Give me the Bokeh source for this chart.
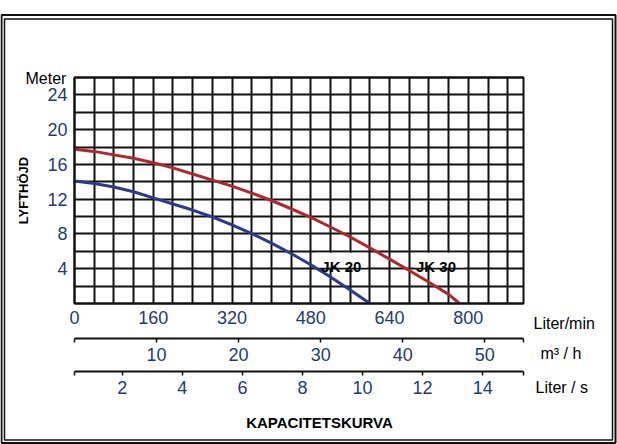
from bokeh.plotting import figure
from bokeh.models import (Range1d, LinearAxis, FixedTicker, SingleIntervalTicker,
                          Label, BoxAnnotation)
from bokeh.embed import file_html
from bokeh.resources import INLINE

FONT = "Liberation Sans"
TICK_BLUE = "#1f3a78"
RED = "#b1282c"
BLUE = "#2a3a8e"
INK = "#111111"

# ---- data ----
q_jk20 = [0, 40, 80, 120, 160, 200, 240, 280, 320, 360, 400, 440, 480, 520, 560, 600]
h_jk20 = [14.1, 13.8, 13.4, 12.85, 12.15, 11.45, 10.75, 9.95, 9.05, 8.05, 6.95, 5.75,
          4.45, 3.05, 1.55, 0.0]

q_jk30 = [0, 40, 80, 120, 160, 200, 240, 280, 320, 360, 400, 440, 480, 520, 560, 600,
          640, 680, 720, 760, 782]
h_jk30 = [17.75, 17.5, 17.1, 16.7, 16.2, 15.6, 14.9, 14.2, 13.5, 12.7, 11.85, 10.9, 9.9,
          8.8, 7.65, 6.4, 5.1, 3.8, 2.45, 1.05, 0.0]

lpm_ticks = [0, 160, 320, 480, 640, 800]          # Liter/min
m3h_ticks = [10, 20, 30, 40, 50]                  # m3 / h
ls_ticks = [2, 4, 6, 8, 10, 12, 14]               # Liter / s
h_ticks = [4, 8, 12, 16, 20, 24]                  # Meter

q_max = 912            # right edge of the diagram (Liter/min)
h_max = 26             # top edge of the diagram (Meter)
m3h_per_lpm = 0.06
ls_zero_lpm = -25      # where 0 Liter/s sits on the Liter/min scale in the reference
lpm_per_ls = 61

# ---- layout (pixels) ----
W, H = 617, 444
L, R, T, B = 74, 523, 77, 303
ppx = (R - L) / q_max
ppy = (B - T) / h_max
x0, x1 = -L / ppx, q_max + (W - R) / ppx
y0, y1 = -(H - B) / ppy, h_max + T / ppy


def dx(px):
    return (px - L) / ppx


def dy(py):
    return (B - py) / ppy


def to_ls(q):
    return (q - ls_zero_lpm) / lpm_per_ls


p = figure(width=W, height=H, output_backend="svg", toolbar_location=None, title=None,
           x_range=Range1d(x0, x1), y_range=Range1d(y0, y1),
           min_border=0, min_border_left=0, min_border_right=0,
           min_border_top=0, min_border_bottom=0)
p.background_fill_color = "white"
p.border_fill_color = "white"
p.outline_line_color = None

# grid restricted to the diagram
p.xgrid.ticker = SingleIntervalTicker(interval=40)
p.ygrid.ticker = SingleIntervalTicker(interval=2)
xg, yg = p.xgrid[0], p.ygrid[0]
xg.bounds = (0, q_max)
xg.cross_bounds = (0, h_max)
yg.bounds = (0, h_max)
yg.cross_bounds = (0, q_max)
for g in (xg, yg):
    g.grid_line_color = INK
    g.grid_line_width = 2
    g.grid_line_alpha = 1.0

# y axis
ya = p.yaxis[0]
ya.fixed_location = 0
ya.bounds = (0, h_max)
ya.ticker = FixedTicker(ticks=h_ticks)
ya.axis_line_color = None
ya.major_tick_line_color = None
ya.minor_tick_line_color = None
ya.major_tick_out = 0
ya.major_tick_in = 0
ya.major_label_standoff = 7
ya.major_label_text_font = FONT
ya.major_label_text_font_size = "18px"
ya.major_label_text_color = TICK_BLUE
ya.axis_label = "LYFTHÖJD"
ya.axis_label_text_font = FONT
ya.axis_label_text_font_style = "bold"
ya.axis_label_text_font_size = "13px"
ya.axis_label_text_color = "black"
ya.axis_label_standoff = 13

# main x axis (Liter/min)
xa = p.xaxis[0]
xa.fixed_location = 0
xa.bounds = (0, q_max)
xa.ticker = FixedTicker(ticks=lpm_ticks)
xa.axis_line_color = None
xa.major_tick_line_color = None
xa.minor_tick_line_color = None
xa.major_tick_out = 0
xa.major_tick_in = 0
xa.major_label_standoff = 7
xa.major_label_text_font = FONT
xa.major_label_text_font_size = "18px"
xa.major_label_text_color = TICK_BLUE

p.extra_x_ranges = {
    "m3h": Range1d(x0 * m3h_per_lpm, x1 * m3h_per_lpm),
    "ls": Range1d(to_ls(x0), to_ls(x1)),
}


def style_sub_axis(ax, standoff):
    ax.axis_line_color = INK
    ax.axis_line_width = 2
    ax.major_tick_line_color = INK
    ax.major_tick_line_width = 1.5
    ax.major_tick_out = 4
    ax.major_tick_in = 0
    ax.minor_tick_line_color = None
    ax.major_label_standoff = standoff
    ax.major_label_text_font = FONT
    ax.major_label_text_font_size = "18px"
    ax.major_label_text_color = TICK_BLUE


m3h_end = round(q_max * m3h_per_lpm, 2)
a2 = LinearAxis(x_range_name="m3h", fixed_location=dy(337.7), bounds=(0, m3h_end),
                ticker=FixedTicker(ticks=[0] + m3h_ticks + [m3h_end]),
                major_label_overrides={0: "", m3h_end: ""})
style_sub_axis(a2, 6)
p.add_layout(a2, "below")

ls_a, ls_b = round(to_ls(0), 3), round(to_ls(q_max), 3)
a3 = LinearAxis(x_range_name="ls", fixed_location=dy(370.7), bounds=(ls_a, ls_b),
                ticker=FixedTicker(ticks=[ls_a] + ls_ticks + [ls_b]),
                major_label_overrides={ls_a: "", ls_b: ""})
style_sub_axis(a3, 6)
p.add_layout(a3, "below")

# white boxes behind the curve labels
p.quad(left=[490, 690], right=[595, 792], bottom=[4.15, 4.15], top=[5.85, 5.85],
       fill_color="white", line_color=None)

# curves
p.line(q_jk20, h_jk20, line_color=BLUE, line_width=3, line_join="round")
p.line(q_jk30, h_jk30, line_color=RED, line_width=3, line_join="round")

# diagram outline
p.add_layout(BoxAnnotation(left=0, right=q_max, bottom=0, top=h_max, fill_color=None,
                           line_color=INK, line_width=2, line_alpha=1.0))


def add_label(px, py, text, size, bold=False, align="left"):
    p.add_layout(Label(x=dx(px), y=dy(py), text=text, text_font=FONT,
                       text_font_size=size, text_color="black",
                       text_font_style="bold" if bold else "normal",
                       text_align=align, text_baseline="alphabetic"))


add_label(340.8, 266, "JK 20", "15px", bold=True, align="center")
add_label(435.5, 266, "JK 30", "15px", bold=True, align="center")
add_label(25, 78.3, "Meter", "16px")
add_label(533, 322.7, "Liter/min", "16px")
add_label(540, 352.7, "m³ / h", "16px")
add_label(535, 387.3, "Liter / s", "16px")
add_label(319, 421.7, "KAPACITETSKURVA", "15px", bold=True, align="center")

# double frame around the whole picture
p.add_layout(BoxAnnotation(left=dx(1), right=dx(615), top=dy(14.5), bottom=dy(442.5),
                           fill_color=None, line_color=INK, line_width=2, line_alpha=1.0))
p.add_layout(BoxAnnotation(left=dx(4), right=dx(612), top=dy(18.5), bottom=dy(439.5),
                           fill_color=None, line_color=INK, line_width=1.5,
                           line_alpha=1.0))

open("out.html", "w").write(file_html(p, INLINE))
